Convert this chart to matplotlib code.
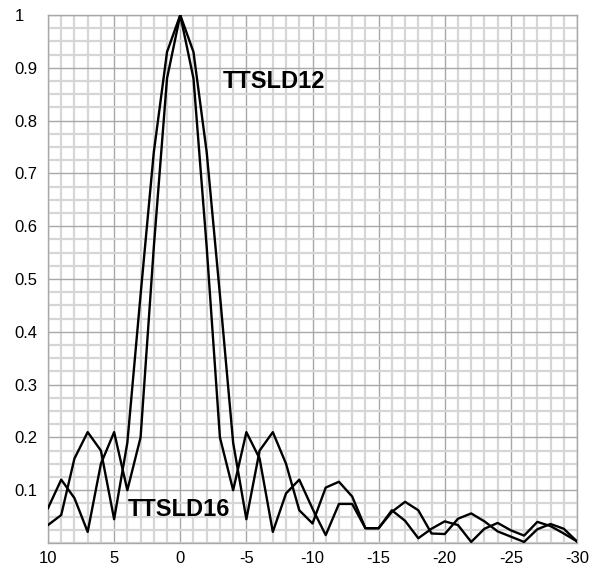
import matplotlib
matplotlib.use("Agg")
import matplotlib.pyplot as plt
from matplotlib.ticker import MultipleLocator, FixedLocator

# sample positions (integer steps from 10 down to -30)
x_vals = list(range(10, -31, -1))

# narrow main lobe curve (first null near 4)
curve_a = [0.066, 0.12, 0.085, 0.021, 0.15, 0.21, 0.10, 0.20, 0.56, 0.88,
           1.0,
           0.88, 0.56, 0.20, 0.10, 0.21, 0.16, 0.021, 0.094, 0.12, 0.065,
           0.015, 0.074, 0.074, 0.028, 0.028, 0.062, 0.042, 0.009, 0.027, 0.041,
           0.034, 0.002, 0.027, 0.038, 0.024, 0.014, 0.040, 0.032, 0.018, 0.003]

# wider main lobe curve (first null near 5)
curve_b = [0.034, 0.053, 0.16, 0.21, 0.175, 0.045, 0.19, 0.47, 0.74, 0.93,
           1.0,
           0.93, 0.74, 0.47, 0.19, 0.045, 0.175, 0.21, 0.15, 0.062, 0.037,
           0.105, 0.116, 0.088, 0.028, 0.028, 0.059, 0.078, 0.062, 0.018, 0.017,
           0.046, 0.056, 0.041, 0.022, 0.012, 0.002, 0.026, 0.036, 0.027, 0.003]

x_ticks = [10, 5, 0, -5, -10, -15, -20, -25, -30]
x_tick_labels = ["10", "5", "0", "-5", "-10", "-15", "-20", "-25", "-30"]
y_ticks = [0.1, 0.2, 0.3, 0.4, 0.5, 0.6, 0.7, 0.8, 0.9, 1.0]
y_tick_labels = ["0.1", "0.2", "0.3", "0.4", "0.5", "0.6", "0.7", "0.8", "0.9", "1"]

label_12 = "TTSLD12"
label_16 = "TTSLD16"

plt.rcParams['font.family'] = ['Liberation Sans', 'DejaVu Sans']

W, H = 597, 576
fig = plt.figure(figsize=(W / 100, H / 100), dpi=100)
L, R, T, B = 48, 577, 15, 543
ax = fig.add_axes([L / W, (H - B) / H, (R - L) / W, (B - T) / H])

ax.set_xlim(10, -30)
ax.set_ylim(0, 1)

ax.xaxis.set_major_locator(FixedLocator(x_ticks))
ax.xaxis.set_minor_locator(MultipleLocator(1))
ax.yaxis.set_major_locator(FixedLocator(y_ticks))
ax.yaxis.set_minor_locator(MultipleLocator(0.025))
ax.set_xticklabels(x_tick_labels)
ax.set_yticklabels(y_tick_labels)

ax.grid(which='minor', color='#d6d6d6', linewidth=1.6)
ax.grid(which='major', color='#a8a8a8', linewidth=1.0)
ax.set_axisbelow(True)

for s in ax.spines.values():
    s.set_color('#a8a8a8')
    s.set_linewidth(1.0)

ax.tick_params(which='both', length=0)
ax.tick_params(axis='x', labelsize=12, pad=6, colors='black')
ax.tick_params(axis='y', labelsize=12, pad=24, colors='black')
for lab in ax.get_yticklabels():
    lab.set_ha('left')

ax.plot(x_vals, curve_a, color='black', linewidth=1.7, zorder=3)
ax.plot(x_vals, curve_b, color='black', linewidth=1.7, zorder=3)

ax.text(-3.2, 0.874, label_12, fontsize=17, fontweight='bold',
        ha='left', va='center', zorder=4)
ax.text(3.95, 0.064, label_16, fontsize=17, fontweight='bold',
        ha='left', va='center', zorder=4)

fig.savefig("out.png", dpi=100)
